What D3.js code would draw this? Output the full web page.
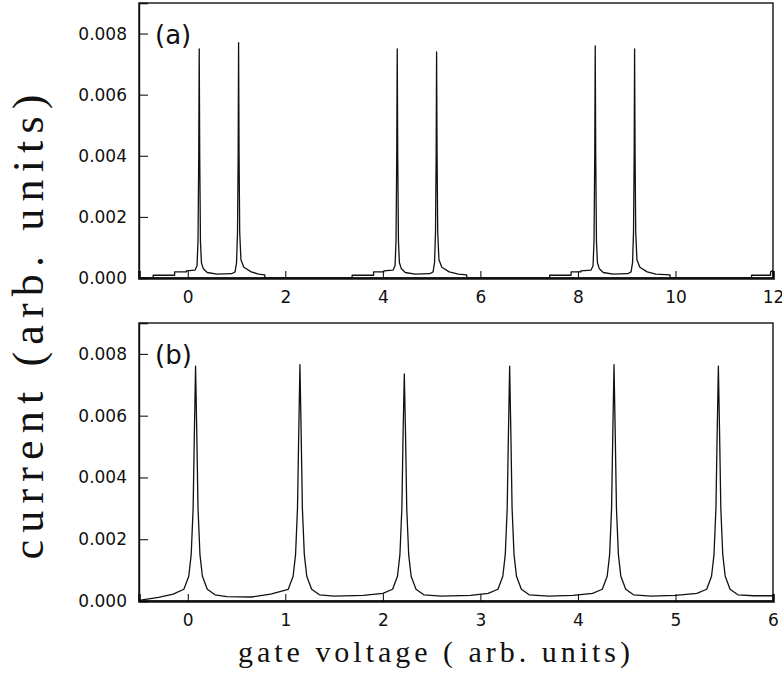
<!DOCTYPE html>
<html>
<head>
<meta charset="utf-8">
<script src="https://cdn.jsdelivr.net/npm/d3@7"></script>
<style>
  body { margin: 0; background: #fff; }
</style>
</head>
<body>
<script>
// panel (a): [gate voltage, current]
var curveA = [
  [-1, 0], [-0.71, 0], [-0.71, 0.00009], [-0.27, 0.00009], [-0.27, 0.0002], [-0.03, 0.0002], [-0.03, 0.00023],
  [0.15, 0.00026], [0.19, 0.0004], [0.21, 0.0012], [0.225, 0.004], [0.235, 0.0075], [0.245, 0.004], [0.26, 0.0012],
  [0.28, 0.0005], [0.32, 0.0003], [0.4, 0.00018], [0.6, 0.00013], [0.9, 0.00014], [0.97, 0.0002], [1.0, 0.0005],
  [1.02, 0.0015], [1.033, 0.004], [1.042, 0.0077], [1.052, 0.004], [1.065, 0.0015], [1.09, 0.0006], [1.15, 0.00035],
  [1.3, 0.0002], [1.45, 0.00013], [1.58, 0.0001], [1.58, 0],
  [3.37, 0], [3.37, 0.00009], [3.81, 0.00009], [3.81, 0.0002], [4.02, 0.0002], [4.02, 0.00023],
  [4.21, 0.00026], [4.25, 0.0004], [4.27, 0.0012], [4.285, 0.004], [4.295, 0.0075], [4.305, 0.004], [4.32, 0.0012],
  [4.34, 0.0005], [4.38, 0.0003], [4.46, 0.00018], [4.66, 0.00013], [4.96, 0.00014], [5.03, 0.0002], [5.06, 0.0005],
  [5.08, 0.0015], [5.093, 0.004], [5.102, 0.0074], [5.112, 0.004], [5.125, 0.0015], [5.15, 0.0006], [5.21, 0.00035],
  [5.36, 0.0002], [5.55, 0.00013], [5.72, 0.0001], [5.72, 0],
  [7.42, 0], [7.42, 0.00009], [7.86, 0.00009], [7.86, 0.0002], [8.06, 0.0002], [8.06, 0.00023],
  [8.27, 0.00026], [8.31, 0.0004], [8.33, 0.0012], [8.345, 0.004], [8.355, 0.0076], [8.365, 0.004], [8.38, 0.0012],
  [8.4, 0.0005], [8.44, 0.0003], [8.52, 0.00018], [8.72, 0.00013], [9.02, 0.00014], [9.09, 0.0002], [9.12, 0.0005],
  [9.14, 0.0015], [9.153, 0.004], [9.162, 0.0075], [9.172, 0.004], [9.185, 0.0015], [9.21, 0.0006], [9.27, 0.00035],
  [9.42, 0.0002], [9.6, 0.00013], [9.89, 0.0001], [9.89, 0],
  [11.56, 0], [11.56, 0.00009], [11.95, 0.00009], [11.95, 0.0002], [12, 0.00025]
];

// panel (b): [gate voltage, current]
var curveB = [
  [-0.5, 0.00002], [-0.3, 0.00012], [-0.15, 0.00022], [-0.04, 0.00038], [0.01, 0.0008], [0.035, 0.0015],
  [0.055, 0.003], [0.068, 0.0055], [0.08, 0.0076], [0.092, 0.0055], [0.105, 0.003], [0.125, 0.0015],
  [0.15, 0.0008], [0.2, 0.00038], [0.28, 0.0002], [0.4, 0.00014], [0.65, 0.00013], [0.85, 0.00022],
  [1.03, 0.00038], [1.08, 0.0008], [1.105, 0.0015], [1.125, 0.003], [1.138, 0.0055], [1.15, 0.00765],
  [1.162, 0.0055], [1.175, 0.003], [1.195, 0.0015], [1.22, 0.0008], [1.27, 0.00038], [1.35, 0.0002],
  [1.5, 0.00016], [1.8, 0.00018], [2.0, 0.00025],
  [2.1, 0.00038], [2.15, 0.0008], [2.175, 0.0015], [2.195, 0.003], [2.208, 0.0055], [2.22, 0.00735],
  [2.232, 0.0055], [2.245, 0.003], [2.265, 0.0015], [2.29, 0.0008], [2.34, 0.00038], [2.42, 0.0002],
  [2.6, 0.00016], [2.9, 0.00018], [3.08, 0.00025],
  [3.18, 0.00038], [3.23, 0.0008], [3.255, 0.0015], [3.275, 0.003], [3.288, 0.0055], [3.3, 0.0076],
  [3.312, 0.0055], [3.325, 0.003], [3.345, 0.0015], [3.37, 0.0008], [3.42, 0.00038], [3.5, 0.0002],
  [3.7, 0.00016], [3.95, 0.00018], [4.15, 0.00025],
  [4.25, 0.00038], [4.3, 0.0008], [4.325, 0.0015], [4.345, 0.003], [4.358, 0.0055], [4.37, 0.00765],
  [4.382, 0.0055], [4.395, 0.003], [4.415, 0.0015], [4.44, 0.0008], [4.49, 0.00038], [4.57, 0.0002],
  [4.75, 0.00016], [5.0, 0.00018], [5.22, 0.00025],
  [5.32, 0.00038], [5.37, 0.0008], [5.395, 0.0015], [5.415, 0.003], [5.428, 0.0055], [5.44, 0.0076],
  [5.452, 0.0055], [5.465, 0.003], [5.485, 0.0015], [5.51, 0.0008], [5.56, 0.00038], [5.64, 0.0002],
  [5.8, 0.00017], [6.0, 0.00017]
];

var xTicksA = [0, 2, 4, 6, 8, 10, 12];
var xTicksB = [0, 1, 2, 3, 4, 5, 6];
var yTicks = [0, 0.002, 0.004, 0.006, 0.008];
var yTickLabels = ["0.000", "0.002", "0.004", "0.006", "0.008"];

//Width and height
var w = 782;
var h = 676;
var left = 139, right = 773;

var svg = d3.select("body")
    .append("svg")
    .attr("width", w)
    .attr("height", h);

function drawPanel(data, xDomain, xTicks, top, bottom, tag) {
    var xScale = d3.scaleLinear().domain(xDomain).range([left, right]);
    var yScale = d3.scaleLinear().domain([0, 0.009]).range([bottom, top]);
    var g = svg.append("g");

    // frame
    g.append("rect")
        .attr("x", left).attr("y", top)
        .attr("width", right - left).attr("height", bottom - top)
        .attr("fill", "none").attr("stroke", "#111").attr("stroke-width", 1.4);

    // bottom axis, ticks pointing inward
    var xAxis = d3.axisBottom(xScale).tickValues(xTicks).tickSize(-7).tickPadding(13)
        .tickFormat(d3.format("d"));
    var gx = g.append("g")
        .attr("transform", "translate(0," + bottom + ")")
        .call(xAxis);
    gx.select(".domain").attr("stroke", "#111").attr("stroke-width", 2.6);
    gx.selectAll("text").attr("font-family", "DejaVu Sans").attr("font-size", "17px").attr("fill", "#111");

    // left axis, ticks pointing inward
    var yAxis = d3.axisLeft(yScale).tickValues(yTicks).tickSize(-9).tickPadding(12)
        .tickFormat(function (d, i) { return yTickLabels[i]; });
    var gy = g.append("g")
        .attr("transform", "translate(" + left + ",0)")
        .call(yAxis);
    gy.select(".domain").attr("stroke", "#111").attr("stroke-width", 1.4);
    gy.selectAll("text").attr("font-family", "DejaVu Sans").attr("font-size", "17px").attr("fill", "#111");

    var line = d3.line()
        .x(function (d) { return xScale(d[0]); })
        .y(function (d) { return yScale(d[1]); });

    g.append("path")
        .datum(data)
        .attr("d", line)
        .attr("fill", "none")
        .attr("stroke", "#111")
        .attr("stroke-width", 1.3)
        .attr("stroke-linejoin", "round");

    g.append("text")
        .text(tag)
        .attr("x", left + 16)
        .attr("y", yScale(0.008) + 10)
        .attr("font-family", "DejaVu Sans")
        .attr("font-size", "26px")
        .attr("fill", "#111");
}

drawPanel(curveA, [-1, 12], xTicksA, 3, 278, "(a)");
drawPanel(curveB, [-0.5, 6], xTicksB, 323, 601, "(b)");

// axis titles
svg.append("text")
    .text("current (arb. units)")
    .attr("transform", "translate(43,327) rotate(-90)")
    .attr("text-anchor", "middle")
    .attr("textLength", 465)
    .attr("lengthAdjust", "spacing")
    .attr("font-family", "Liberation Serif")
    .attr("font-size", "44px")
    .attr("fill", "#111");

svg.append("text")
    .text("gate voltage ( arb. units)")
    .attr("x", 434)
    .attr("y", 662)
    .attr("text-anchor", "middle")
    .attr("textLength", 392)
    .attr("lengthAdjust", "spacing")
    .attr("font-family", "Liberation Serif")
    .attr("font-size", "30px")
    .attr("fill", "#111");
</script>
</body>
</html>
